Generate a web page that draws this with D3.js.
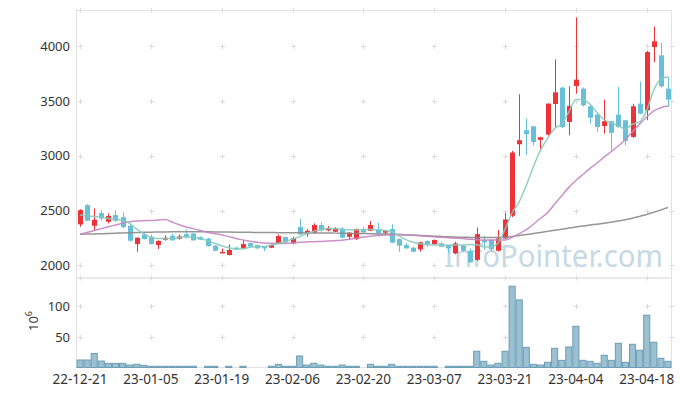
<!DOCTYPE html>
<html>
<head>
<meta charset="utf-8">
<script src="https://cdn.jsdelivr.net/npm/d3@7"></script>
<style>
  body { margin: 0; background: #fff; }
  svg { display: block; font-family: "Noto Sans", sans-serif; }
</style>
</head>
<body>
<svg width="680" height="396"></svg>
<script>
// trading days (KRX) 22-12-21 .. 23-04-21
const dates = [
  '22-12-21','22-12-22','22-12-23','22-12-26','22-12-27','22-12-28','22-12-29',
  '23-01-02','23-01-03','23-01-04','23-01-05','23-01-06','23-01-09','23-01-10','23-01-11','23-01-12','23-01-13',
  '23-01-16','23-01-17','23-01-18','23-01-19','23-01-20','23-01-25','23-01-26','23-01-27','23-01-30','23-01-31',
  '23-02-01','23-02-02','23-02-03','23-02-06','23-02-07','23-02-08','23-02-09','23-02-10','23-02-13','23-02-14',
  '23-02-15','23-02-16','23-02-17','23-02-20','23-02-21','23-02-22','23-02-23','23-02-24','23-02-27','23-02-28',
  '23-03-02','23-03-03','23-03-06','23-03-07','23-03-08','23-03-09','23-03-10','23-03-13','23-03-14','23-03-15',
  '23-03-16','23-03-17','23-03-20','23-03-21','23-03-22','23-03-23','23-03-24','23-03-27','23-03-28','23-03-29',
  '23-03-30','23-03-31','23-04-03','23-04-04','23-04-05','23-04-06','23-04-07','23-04-10','23-04-11','23-04-12',
  '23-04-13','23-04-14','23-04-17','23-04-18','23-04-19','23-04-20','23-04-21'
];

const open = [
  2374,2550,2361,2477,2398,2459,2440,2361,2194,2282,2261,2185,2234,2270,2243,2285,2291,2258,2243,2179,
  2115,2094,2161,2155,2203,2185,2170,2161,2200,2258,2200,2349,2285,2298,2368,2319,2307,2331,2261,2240,
  2325,2316,2331,2298,2331,2240,2185,2161,2146,2222,2194,2200,2179,2109,2179,2133,2050,2231,2231,2133,
  2246,2453,3106,3234,3270,3146,3194,3474,3623,3310,3638,3614,3453,3377,3273,3316,3377,3325,3173,3477,
  3416,3994,3918,3614,3483
];
const high = [
  2513,2559,2520,2504,2474,2504,2483,2374,2255,2298,2282,2228,2276,2291,2282,2328,2295,2264,2252,2185,
  2152,2191,2170,2225,2206,2190,2176,2190,2282,2262,2261,2422,2331,2383,2392,2358,2349,2349,2304,2335,
  2349,2404,2386,2320,2374,2245,2206,2170,2215,2228,2236,2215,2185,2215,2190,2155,2346,2267,2240,2322,
  2480,3045,3562,3340,3275,3175,3480,3881,3630,3635,4265,3625,3460,3385,3514,3320,3629,3330,3475,3681,
  3960,4182,4033,3720,3559
];
const low = [
  2352,2405,2313,2410,2383,2398,2337,2215,2124,2236,2190,2149,2225,2225,2234,2246,2225,2230,2170,2130,
  2112,2090,2140,2150,2165,2150,2130,2158,2196,2205,2191,2282,2261,2292,2307,2310,2304,2246,2231,2231,
  2298,2312,2270,2276,2206,2124,2150,2120,2124,2170,2188,2165,2109,2100,2120,2027,2040,2140,2130,2125,
  2240,2440,2997,3006,3097,3058,3185,3258,3255,3188,3568,3450,3295,3219,3204,3052,3255,3097,3165,3380,
  3325,3857,3625,3447,3350
];
const close = [
  2504,2407,2416,2428,2450,2407,2349,2225,2252,2240,2194,2222,2252,2228,2264,2255,2228,2234,2176,2133,
  2122,2140,2146,2194,2170,2155,2155,2185,2267,2209,2246,2282,2316,2368,2319,2337,2337,2252,2298,2331,
  2301,2368,2291,2316,2206,2179,2155,2124,2209,2194,2231,2170,2155,2200,2133,2027,2285,2209,2146,2246,
  2419,3030,3143,3197,3127,3170,3477,3580,3264,3456,3696,3462,3349,3264,3316,3210,3264,3137,3453,3386,
  3948,4046,3635,3514,3355
];
// volume, 10^6 shares
const volume = [
  12.3,12.3,23,10.6,6.8,6.8,6.8,4,5.2,3.5,2,2,2,2,2,2,2,0,2,2,
  0,2,0,2,0,0,0,2,5.2,2,2,18.9,4,7,4,2,2,4,2,2,
  0,5.2,2,2,5.2,2,2,2,2,2,2,0,2,2,2,2,26.6,10.1,4,6.9,
  26.6,133,110.7,33,5.2,4,8.5,31.4,11.7,33.6,67.5,11.7,10.1,6.9,20,11.7,39.6,8.5,38,28.2,
  85.6,41.3,15,10.1,6.9
];
// moving averages
const ma5 = [
  2459,2452,2445,2438,2428,2420,2410,2383,2330,2290,2255,2246,2246,2246,2252,2261,2255,2246,2225,2201,
  2178,2160,2150,2150,2165,2170,2172,2185,2200,2218,2240,2262,2290,2310,2328,2337,2335,2331,2325,2322,
  2325,2328,2325,2318,2305,2270,2235,2210,2196,2188,2185,2185,2185,2185,2185,2190,2188,2170,2168,2201,
  2330,2480,2580,2730,2900,3050,3160,3250,3290,3400,3516,3514,3470,3395,3330,3300,3275,3245,3290,3310,
  3416,3600,3700,3720,3705
];
const ma20 = [
  2283,2300,2318,2335,2352,2368,2384,2398,2405,2408,2410,2413,2419,2395,2370,2350,2335,2318,2300,2290,
  2280,2262,2245,2232,2220,2210,2204,2202,2200,2200,2205,2210,2213,2216,2218,2221,2225,2230,2238,2248,
  2258,2266,2272,2276,2280,2282,2278,2274,2270,2266,2260,2256,2252,2248,2244,2238,2233,2231,2231,2231,
  2231,2255,2290,2325,2375,2430,2480,2560,2635,2712,2775,2830,2885,2935,2990,3040,3090,3150,3220,3290,
  3355,3410,3440,3455,3462
];
const ma60 = [
  2283,2285,2287,2289,2291,2293,2295,2297,2299,2301,2303,2304,2305,2306,2307,2307,2307,2306,2306,2305,
  2305,2304,2303,2302,2301,2300,2300,2299,2298,2298,2297,2297,2296,2296,2295,2295,2294,2293,2292,2291,
  2290,2289,2287,2285,2283,2281,2278,2275,2272,2269,2266,2263,2260,2258,2256,2255,2254,2253,2253,2254,
  2255,2263,2272,2281,2290,2300,2310,2320,2330,2340,2350,2359,2368,2376,2385,2395,2405,2417,2430,2447,
  2465,2485,2505,2525,2544
];
const priceTicks = [2000, 2500, 3000, 3500, 4000];
const volTicks = [50, 100];
const xTickEvery = 10;

const svg = d3.select('svg');
const left = 76.5, right = 671.5;
const pTop = 10.5, pBottom = 278;
const vTop = 278, vBottom = 367.5;

const x = d3.scaleBand()
  .domain(dates)
  .range([left, right])
  .padding(0);
const xc = d => x(d) + x.bandwidth() / 2;

const y = d3.scaleLinear().domain([1884, 4328]).range([pBottom, pTop]);
const yv = d3.scaleLinear().domain([0, 146.5]).range([vBottom, vTop]);

const gridColor = '#dcdcdc';
const borderColor = '#e2e2e2';
const xTicks = dates.filter((d, i) => i % xTickEvery === 0);

// plus markers used as grid
function plus(g, px, py) {
  g.append('path')
    .attr('d', `M${px - 2.5},${py}H${px + 2.5}M${px},${py - 2.5}V${py + 2.5}`)
    .attr('stroke', gridColor)
    .attr('stroke-width', 1)
    .attr('fill', 'none');
}
const grid = svg.append('g');
xTicks.forEach(d => {
  const px = Math.round(xc(d)) + 0.5;
  priceTicks.forEach(t => plus(grid, px, Math.round(y(t)) + 0.5));
  volTicks.forEach(t => plus(grid, px, Math.round(yv(t)) + 0.5));
  plus(grid, px, pTop);
  plus(grid, px, vTop);
});
priceTicks.forEach(t => plus(grid, right, Math.round(y(t)) + 0.5));
volTicks.forEach(t => plus(grid, right, Math.round(yv(t)) + 0.5));

// panel borders
svg.append('rect')
  .attr('x', left).attr('y', pTop)
  .attr('width', right - left).attr('height', pBottom - pTop)
  .attr('fill', 'none').attr('stroke', borderColor);
svg.append('rect')
  .attr('x', left).attr('y', vTop)
  .attr('width', right - left).attr('height', vBottom - vTop)
  .attr('fill', 'none').attr('stroke', borderColor);

// watermark
svg.append('text')
  .attr('x', 444).attr('y', 267)
  .attr('font-size', 31)
  .attr('textLength', 219)
  .attr('lengthAdjust', 'spacingAndGlyphs')
  .attr('fill', '#c6d9e4')
  .text('InfoPointer.com');

// y axis labels
svg.append('g').selectAll('text')
  .data(priceTicks)
  .join('text')
    .attr('x', 70)
    .attr('y', d => y(d))
    .attr('dy', '0.35em')
    .attr('text-anchor', 'end')
    .attr('font-size', 13)
    .attr('fill', '#333')
    .text(d => d);

svg.append('g').selectAll('text')
  .data(volTicks)
  .join('text')
    .attr('x', 70)
    .attr('y', d => yv(d))
    .attr('dy', '0.35em')
    .attr('text-anchor', 'end')
    .attr('font-size', 13)
    .attr('fill', '#333')
    .text(d => d);

const unit = svg.append('text')
  .attr('transform', 'translate(38, 321) rotate(-90)')
  .attr('text-anchor', 'middle')
  .attr('font-size', 13)
  .attr('fill', '#333');
unit.append('tspan').text('10');
unit.append('tspan').attr('dy', -6).attr('font-size', 9).text('6');

// x axis labels
svg.append('g').selectAll('text')
  .data(xTicks)
  .join('text')
    .attr('x', d => xc(d))
    .attr('y', 384)
    .attr('text-anchor', 'middle')
    .attr('font-size', 13.5)
    .attr('fill', '#333')
    .text(d => d);

// volume bars
svg.append('g').selectAll('rect')
  .data(dates.map((d, i) => ({ d, v: volume[i] })).filter(e => e.v > 0))
  .join('rect')
    .attr('x', e => x(e.d) + 0.5)
    .attr('y', e => yv(e.v))
    .attr('width', x.bandwidth() - 1)
    .attr('height', e => vBottom - yv(e.v))
    .attr('fill', '#9bc0d1')
    .attr('stroke', '#6b9db5')
    .attr('stroke-width', 1);

// candles
const up = '#ee3338', down = '#68c0d8';
const candles = svg.append('g').selectAll('g')
  .data(dates.map((d, i) => ({ d, o: open[i], h: high[i], l: low[i], c: close[i] })))
  .join('g');
candles.append('line')
  .attr('x1', e => Math.round(xc(e.d)) + 0.5)
  .attr('x2', e => Math.round(xc(e.d)) + 0.5)
  .attr('y1', e => y(e.h))
  .attr('y2', e => y(e.l))
  .attr('stroke', e => e.c >= e.o ? up : down)
  .attr('stroke-width', 1);
candles.append('rect')
  .attr('x', e => Math.round(xc(e.d)) - 2)
  .attr('y', e => y(Math.max(e.o, e.c)))
  .attr('width', 5)
  .attr('height', e => Math.max(1.5, Math.abs(y(e.o) - y(e.c))))
  .attr('fill', e => e.c >= e.o ? up : down);

// moving averages
const line = d3.line()
  .x((v, i) => xc(dates[i]))
  .y(v => y(v))
  .curve(d3.curveMonotoneX);
[[ma60, '#8a8a8a'], [ma20, '#c585c3'], [ma5, '#86cbbb']].forEach(([s, col]) => {
  svg.append('path')
    .attr('d', line(s))
    .attr('fill', 'none')
    .attr('stroke', col)
    .attr('stroke-width', 1.5)
    .attr('opacity', 0.9);
});
</script>
</body>
</html>
